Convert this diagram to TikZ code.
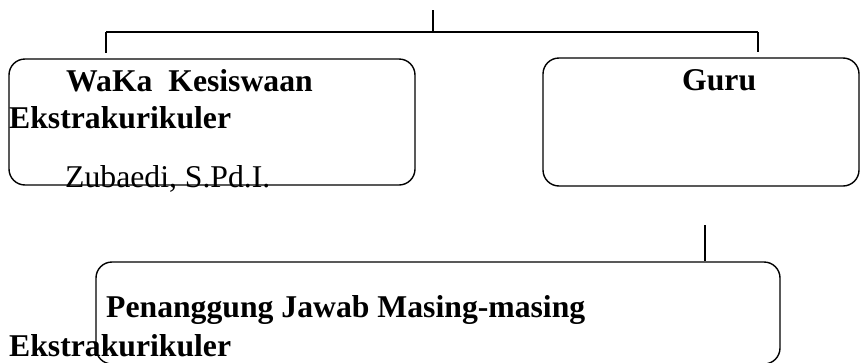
\documentclass[tikz,border=0pt]{standalone}
\usepackage{fontspec}
\setmainfont{Liberation Serif}
\begin{document}
\begin{tikzpicture}[x=1pt,y=-1pt,
  box/.style={draw=black,line width=1.4pt,rounded corners=16pt,rectangle,inner sep=0pt},
  link/.style={draw=black,line width=1.4pt},
  lbl/.style={anchor=base west,inner sep=0pt,font=\fontsize{31.7}{38}\selectfont\bfseries},
  plain/.style={anchor=base west,inner sep=0pt,font=\fontsize{31.7}{38}\selectfont}]
\useasboundingbox (0,0) rectangle (860,362);
% boxes
\node[box,minimum width=406pt,minimum height=126pt] (waka) at (212,122) {};
\node[box,minimum width=316pt,minimum height=128pt] (guru) at (701,122) {};
\node[box,minimum width=684pt,minimum height=102pt] (pj) at (438,313) {};
% texts
\node[lbl] (t1) at (66,91) {WaKa\ \ Kesiswaan};
\node[lbl] (t2) at (9,128) {Ekstrakurikuler};
\node[plain] (t3) at (65,187) {Zubaedi, S.Pd.I.};
\node[lbl] (t4) at (682,90) {Guru};
\node[lbl] (t5) at (106,317) {Penanggung Jawab Masing-masing};
\node[lbl] (t6) at (9,356) {Ekstrakurikuler};
% connectors
\coordinate (top) at (433,10);
\coordinate (mid) at (433,32);
\coordinate (hl) at (106,32);
\coordinate (hr) at (758,32);
\coordinate (dl) at (106,53);
\coordinate (dr) at (758,52);
\coordinate (gu) at (705,225);
\coordinate (gd) at (705,261);
\draw[link] (top) -- (mid);
\draw[link] (hl) -- (hr);
\draw[link] (hl) -- (dl);
\draw[link] (hr) -- (dr);
\draw[link] (gu) -- (gd);
\end{tikzpicture}
\end{document}
